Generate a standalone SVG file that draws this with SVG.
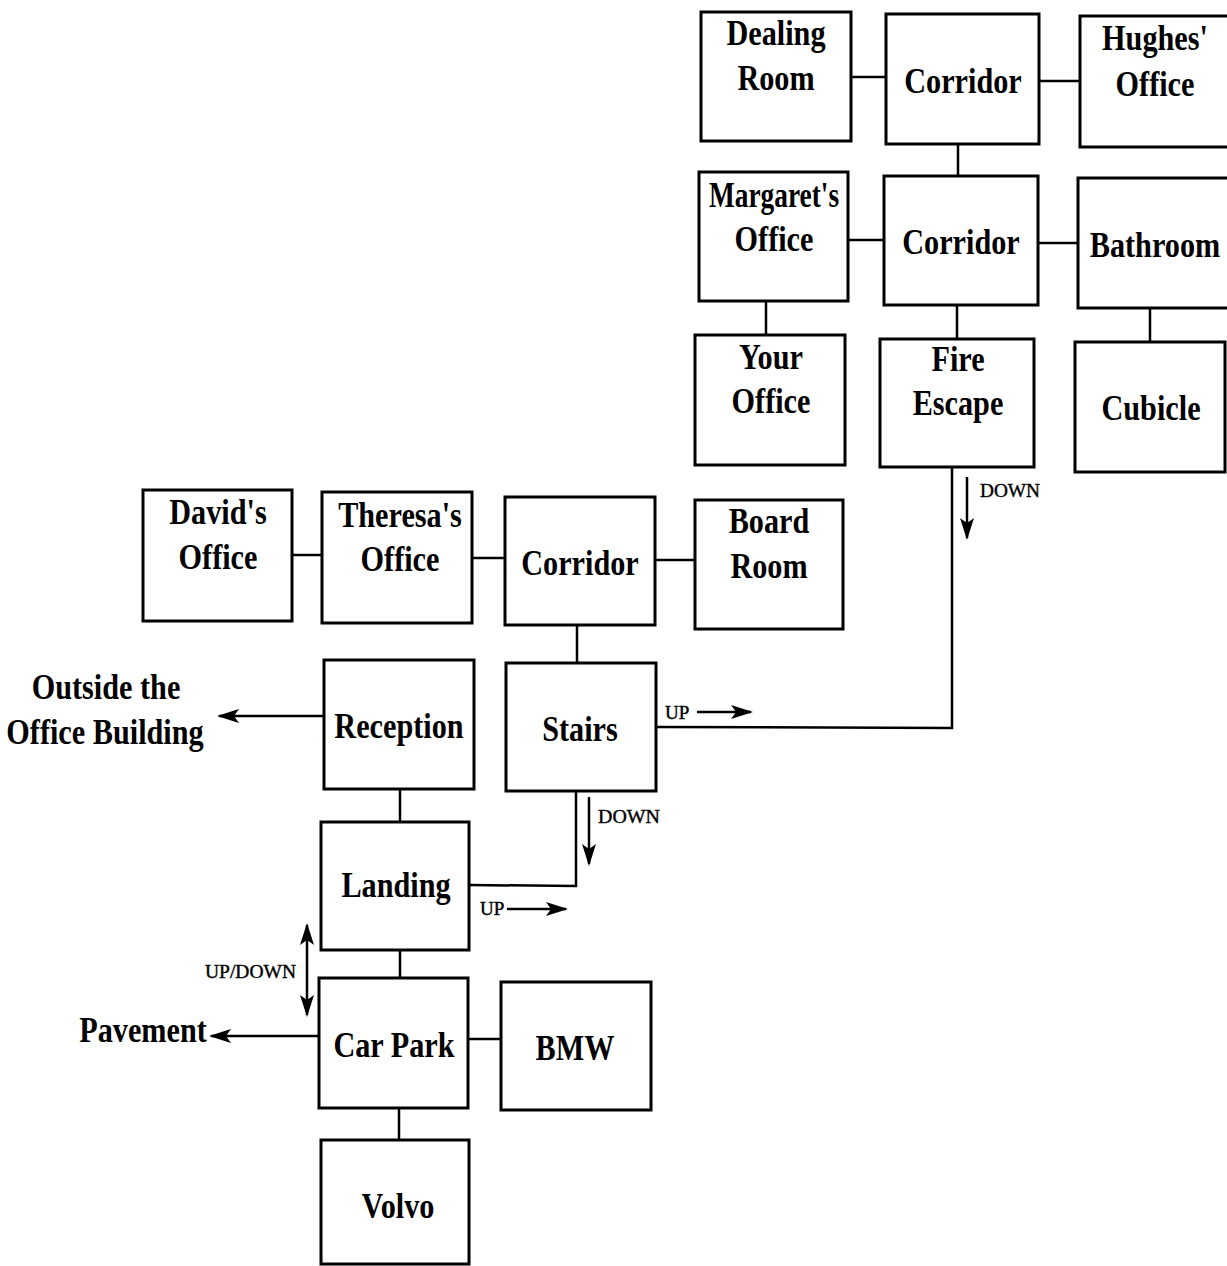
<svg xmlns="http://www.w3.org/2000/svg" width="1227" height="1266" viewBox="0 0 1227 1266">
<style>
.box{fill:#fff;stroke:#000;stroke-width:3}
.ln{fill:none;stroke:#000;stroke-width:2.5}
.t{font-family:"Liberation Serif","Times New Roman",serif;font-weight:bold;font-size:36px;text-anchor:middle;fill:#000}
.s{font-family:"Liberation Serif","Times New Roman",serif;font-size:19px;fill:#000;stroke:#000;stroke-width:0.4}
</style>
<defs>
<marker id="ah" markerUnits="userSpaceOnUse" markerWidth="22" markerHeight="16" refX="20" refY="8" orient="auto-start-reverse">
<path d="M0,1 L22,8 L0,15 L5,8 Z" fill="#000"/>
</marker>
</defs>
<rect width="1227" height="1266" fill="#fff"/>
<g id="connectors">
<line class="ln" x1="851" y1="77" x2="886" y2="77"/>
<line class="ln" x1="1039" y1="81" x2="1080" y2="81"/>
<line class="ln" x1="958" y1="144" x2="958" y2="176"/>
<line class="ln" x1="848" y1="240" x2="884" y2="240"/>
<line class="ln" x1="1038" y1="243" x2="1078" y2="243"/>
<line class="ln" x1="766" y1="301" x2="766" y2="335"/>
<line class="ln" x1="957" y1="305" x2="957" y2="339"/>
<line class="ln" x1="1150" y1="308" x2="1150" y2="342"/>
<polyline class="ln" points="952,467 952,728 656,727"/>
<line class="ln" x1="292" y1="555" x2="322" y2="555"/>
<line class="ln" x1="472" y1="558" x2="505" y2="558"/>
<line class="ln" x1="655" y1="560" x2="695" y2="560"/>
<line class="ln" x1="577" y1="625" x2="577" y2="663"/>
<line class="ln" x1="324" y1="716" x2="219" y2="716" marker-end="url(#ah)"/>
<line class="ln" x1="400" y1="789" x2="400" y2="822"/>
<polyline class="ln" points="576,791 576,886 469,885"/>
<line class="ln" x1="400" y1="950" x2="400" y2="978"/>
<line class="ln" x1="319" y1="1036" x2="211" y2="1036" marker-end="url(#ah)"/>
<line class="ln" x1="468" y1="1039" x2="501" y2="1039"/>
<line class="ln" x1="399" y1="1108" x2="399" y2="1140"/>
<line class="ln" x1="967" y1="477" x2="967" y2="538" marker-end="url(#ah)"/>
<line class="ln" x1="697" y1="712" x2="751" y2="712" marker-end="url(#ah)"/>
<line class="ln" x1="589" y1="797" x2="589" y2="864" marker-end="url(#ah)"/>
<line class="ln" x1="507" y1="909" x2="566" y2="909" marker-end="url(#ah)"/>
<line class="ln" x1="307" y1="925" x2="307" y2="1015" marker-start="url(#ah)" marker-end="url(#ah)"/>
<text class="s" x="980" y="497" textLength="60" lengthAdjust="spacingAndGlyphs">DOWN</text>
<text class="s" x="665" y="719">UP</text>
<text class="s" x="598" y="823" textLength="62" lengthAdjust="spacingAndGlyphs">DOWN</text>
<text class="s" x="480" y="915">UP</text>
<text class="s" x="205" y="978" textLength="91" lengthAdjust="spacingAndGlyphs">UP/DOWN</text>
</g>
<g id="dealing-room"><rect class="box" x="701" y="12" width="150" height="129"/>
<text class="t" transform="translate(776,0) scale(0.84,1)" x="0" y="45">Dealing</text>
<text class="t" transform="translate(776,0) scale(0.84,1)" x="0" y="90">Room</text></g>
<g id="corridor-top"><rect class="box" x="886" y="14" width="153" height="130"/>
<text class="t" transform="translate(963,0) scale(0.84,1)" x="0" y="93">Corridor</text></g>
<g id="hughes-office"><rect class="box" x="1080" y="16" width="152" height="131"/>
<text class="t" transform="translate(1155,0) scale(0.84,1)" x="0" y="50">Hughes'</text>
<text class="t" transform="translate(1155,0) scale(0.84,1)" x="0" y="96">Office</text></g>
<g id="margarets-office"><rect class="box" x="699" y="172" width="149" height="129"/>
<text class="t" transform="translate(774,0) scale(0.76,1)" x="0" y="207">Margaret's</text>
<text class="t" transform="translate(774,0) scale(0.84,1)" x="0" y="251">Office</text></g>
<g id="corridor-middle"><rect class="box" x="884" y="176" width="154" height="129"/>
<text class="t" transform="translate(961,0) scale(0.84,1)" x="0" y="254">Corridor</text></g>
<g id="bathroom"><rect class="box" x="1078" y="178" width="152" height="130"/>
<text class="t" transform="translate(1155,0) scale(0.84,1)" x="0" y="257">Bathroom</text></g>
<g id="your-office"><rect class="box" x="695" y="335" width="150" height="130"/>
<text class="t" transform="translate(771,0) scale(0.84,1)" x="0" y="369">Your</text>
<text class="t" transform="translate(771,0) scale(0.84,1)" x="0" y="413">Office</text></g>
<g id="fire-escape"><rect class="box" x="880" y="339" width="154" height="128"/>
<text class="t" transform="translate(958,0) scale(0.84,1)" x="0" y="371">Fire</text>
<text class="t" transform="translate(958,0) scale(0.84,1)" x="0" y="415">Escape</text></g>
<g id="cubicle"><rect class="box" x="1075" y="342" width="150" height="130"/>
<text class="t" transform="translate(1151,0) scale(0.84,1)" x="0" y="420">Cubicle</text></g>
<g id="davids-office"><rect class="box" x="143" y="490" width="149" height="131"/>
<text class="t" transform="translate(218,0) scale(0.84,1)" x="0" y="524">David's</text>
<text class="t" transform="translate(218,0) scale(0.84,1)" x="0" y="569">Office</text></g>
<g id="theresas-office"><rect class="box" x="322" y="492" width="150" height="131"/>
<text class="t" transform="translate(400,0) scale(0.84,1)" x="0" y="527">Theresa's</text>
<text class="t" transform="translate(400,0) scale(0.84,1)" x="0" y="571">Office</text></g>
<g id="corridor-lower"><rect class="box" x="505" y="497" width="150" height="128"/>
<text class="t" transform="translate(580,0) scale(0.84,1)" x="0" y="575">Corridor</text></g>
<g id="board-room"><rect class="box" x="695" y="500" width="148" height="129"/>
<text class="t" transform="translate(769,0) scale(0.84,1)" x="0" y="533">Board</text>
<text class="t" transform="translate(769,0) scale(0.84,1)" x="0" y="578">Room</text></g>
<g id="reception"><rect class="box" x="324" y="660" width="150" height="129"/>
<text class="t" transform="translate(399,0) scale(0.84,1)" x="0" y="738">Reception</text></g>
<g id="stairs"><rect class="box" x="506" y="663" width="150" height="128"/>
<text class="t" transform="translate(580,0) scale(0.84,1)" x="0" y="741">Stairs</text></g>
<g id="landing"><rect class="box" x="321" y="822" width="148" height="128"/>
<text class="t" transform="translate(396,0) scale(0.84,1)" x="0" y="897">Landing</text></g>
<g id="car-park"><rect class="box" x="319" y="978" width="149" height="130"/>
<text class="t" transform="translate(394,0) scale(0.84,1)" x="0" y="1057">Car Park</text></g>
<g id="bmw"><rect class="box" x="501" y="982" width="150" height="128"/>
<text class="t" transform="translate(575,0) scale(0.84,1)" x="0" y="1060">BMW</text></g>
<g id="volvo"><rect class="box" x="321" y="1140" width="148" height="124"/>
<text class="t" transform="translate(398,0) scale(0.84,1)" x="0" y="1218">Volvo</text></g>
<g id="outside">
<text class="t" transform="translate(106,0) scale(0.84,1)" x="0" y="699">Outside the</text>
<text class="t" transform="translate(105,0) scale(0.84,1)" x="0" y="744">Office Building</text></g>
<g id="pavement">
<text class="t" transform="translate(143,0) scale(0.84,1)" x="0" y="1042">Pavement</text></g>
</svg>
